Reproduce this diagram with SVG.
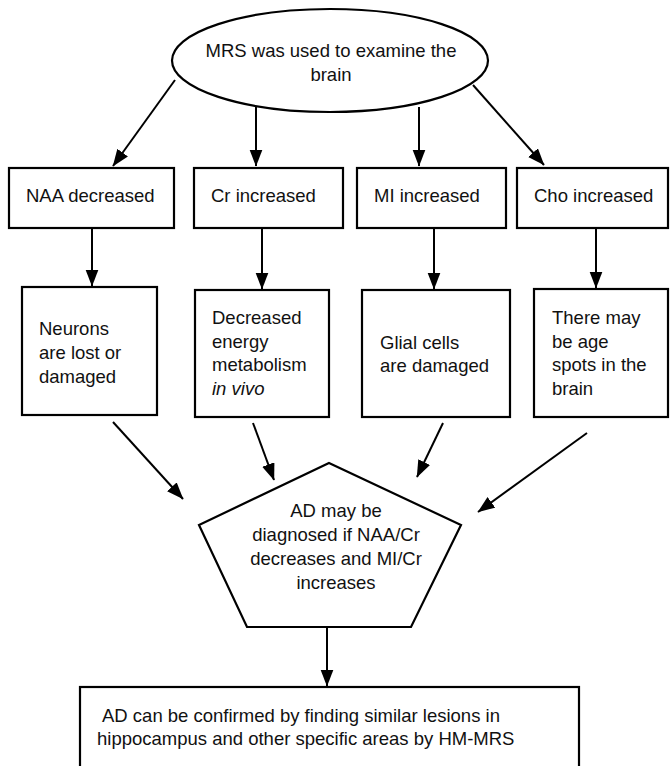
<svg xmlns="http://www.w3.org/2000/svg" width="670" height="766" viewBox="0 0 670 766">
<style>
.shape{fill:#fff;stroke:#000;stroke-width:2.2}
.t{font-family:"Liberation Sans",Arial,sans-serif;font-size:18.5px;fill:#111}
.c{text-anchor:middle}
.edge{fill:none;stroke:#000;stroke-width:2}
</style>
<defs>
<marker id="ah" markerUnits="userSpaceOnUse" markerWidth="18" markerHeight="14" refX="16.5" refY="6.5" orient="auto">
<path d="M0,0 L17,6.5 L0,13 Z" fill="#000"/>
</marker>
</defs>
<rect width="670" height="766" fill="#fff"/>
<g id="connectors">
<line class="edge" x1="175" y1="80" x2="113" y2="166" marker-end="url(#ah)"/>
<line class="edge" x1="256" y1="107" x2="256" y2="166" marker-end="url(#ah)"/>
<line class="edge" x1="419" y1="107" x2="419" y2="166" marker-end="url(#ah)"/>
<line class="edge" x1="473" y1="85" x2="544" y2="165" marker-end="url(#ah)"/>
<line class="edge" x1="92" y1="228" x2="92" y2="286" marker-end="url(#ah)"/>
<line class="edge" x1="262" y1="228" x2="262" y2="289" marker-end="url(#ah)"/>
<line class="edge" x1="434" y1="228" x2="434" y2="289" marker-end="url(#ah)"/>
<line class="edge" x1="596" y1="228" x2="596" y2="288" marker-end="url(#ah)"/>
<line class="edge" x1="113" y1="422" x2="183" y2="499" marker-end="url(#ah)"/>
<line class="edge" x1="253" y1="423" x2="274" y2="480" marker-end="url(#ah)"/>
<line class="edge" x1="443" y1="423" x2="417" y2="477" marker-end="url(#ah)"/>
<line class="edge" x1="587" y1="433" x2="478" y2="512" marker-end="url(#ah)"/>
<line class="edge" x1="327" y1="627" x2="327" y2="686" marker-end="url(#ah)"/>
</g>
<g id="n-mrs">
<ellipse class="shape" cx="330" cy="60.5" rx="158" ry="51.5"/>
<text class="t c" x="331" y="57">MRS was used to examine the</text>
<text class="t c" x="331" y="81">brain</text>
</g>
<g id="n-naa">
<rect class="shape" x="9" y="168" width="165" height="60"/>
<text class="t" x="26" y="202">NAA decreased</text>
</g>
<g id="n-cr">
<rect class="shape" x="194" y="168" width="149" height="60"/>
<text class="t" x="211" y="202">Cr increased</text>
</g>
<g id="n-mi">
<rect class="shape" x="357" y="168" width="149" height="60"/>
<text class="t" x="374" y="202">MI increased</text>
</g>
<g id="n-cho">
<rect class="shape" x="517" y="168" width="151" height="60"/>
<text class="t" x="534" y="202">Cho increased</text>
</g>
<g id="n-neurons">
<rect class="shape" x="22" y="287" width="135" height="128"/>
<text class="t" x="39" y="334.5">Neurons</text>
<text class="t" x="39" y="358.5">are lost or</text>
<text class="t" x="39" y="382.5">damaged</text>
</g>
<g id="n-energy">
<rect class="shape" x="195" y="290" width="134" height="127"/>
<text class="t" x="212" y="323.5">Decreased</text>
<text class="t" x="212" y="347.5">energy</text>
<text class="t" x="212" y="371">metabolism</text>
<text class="t" x="212" y="394.5" font-style="italic">in vivo</text>
</g>
<g id="n-glial">
<rect class="shape" x="362" y="290" width="148" height="127"/>
<text class="t" x="380" y="348.5">Glial cells</text>
<text class="t" x="380" y="371.5">are damaged</text>
</g>
<g id="n-spots">
<rect class="shape" x="534" y="289" width="134" height="128"/>
<text class="t" x="552" y="323.5">There may</text>
<text class="t" x="552" y="347.5">be age</text>
<text class="t" x="552" y="371">spots in the</text>
<text class="t" x="552" y="394.5">brain</text>
</g>
<g id="n-diagnosis">
<polygon class="shape" points="329,463 461,525 411,627 247,627 199,525"/>
<text class="t c" x="336" y="516.5">AD may be</text>
<text class="t c" x="336" y="540.5">diagnosed if NAA/Cr</text>
<text class="t c" x="336" y="564.5">decreases and MI/Cr</text>
<text class="t c" x="336" y="588.5">increases</text>
</g>
<g id="n-confirm">
<rect class="shape" x="80" y="687" width="499" height="110"/>
<text class="t" x="102" y="721.5">AD can be confirmed by finding similar lesions in</text>
<text class="t" x="97" y="744.5">hippocampus and other specific areas by HM-MRS</text>
</g>
</svg>
